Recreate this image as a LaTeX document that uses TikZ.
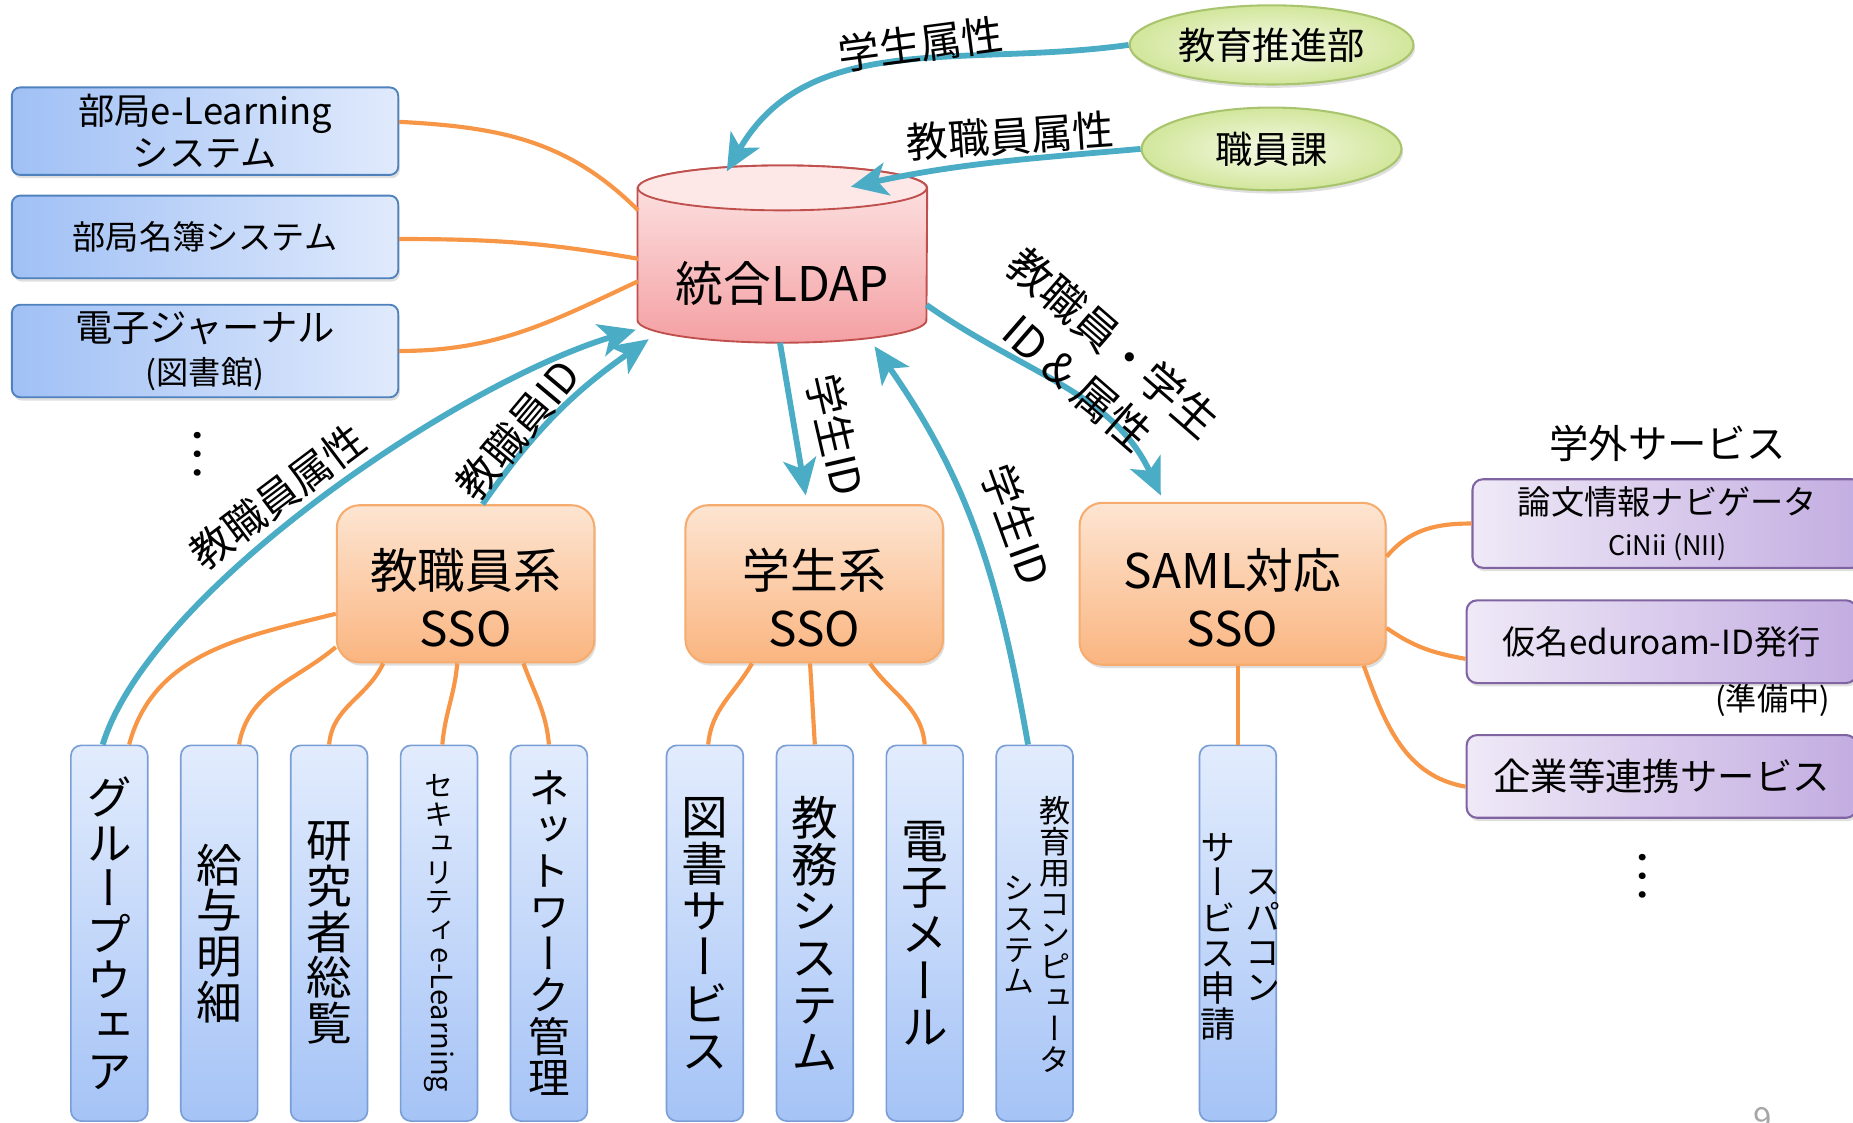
\documentclass[tikz,border=0pt]{standalone}
\usepackage{fontspec}
\setmainfont{Noto Sans CJK JP}
\newfontfamily\tatefont[RawFeature=+vert]{Noto Sans CJK JP}
\usepackage{graphicx}
\usepackage{tikz}
\usetikzlibrary{arrows.meta, shapes.geometric, shadows, calc}

\definecolor{flowblue}{HTML}{4BACC6}
\definecolor{linkorange}{HTML}{F79646}
\definecolor{sideline}{HTML}{4F81BD}
\definecolor{sideL}{HTML}{A0C0F5}
\definecolor{sideR}{HTML}{E0EAFC}
\definecolor{tateline}{HTML}{7A9ED6}
\definecolor{tateT}{HTML}{E2ECFD}
\definecolor{tateB}{HTML}{A5C3F6}
\definecolor{ssoline}{HTML}{F5AC6E}
\definecolor{ssoT}{HTML}{FDE5D2}
\definecolor{ssoB}{HTML}{FAB580}
\definecolor{extline}{HTML}{8064A2}
\definecolor{extL}{HTML}{EFE9F7}
\definecolor{extR}{HTML}{C3ADE1}
\definecolor{srcline}{HTML}{A9C46E}
\definecolor{srcin}{HTML}{F5FAE6}
\definecolor{srcout}{HTML}{D2E69B}
\definecolor{dbline}{HTML}{C0504D}
\definecolor{dbT}{HTML}{FDE7E7}
\definecolor{dbB}{HTML}{F4A0A3}

\tikzset{
    soft shadow/.style={drop shadow={opacity=0.25, shadow xshift=0.8pt, shadow yshift=-1.6pt}},
    side box/.style={draw=sideline, line width=0.9pt, rounded corners=4pt,
        left color=sideL, right color=sideR, soft shadow,
        minimum width=6.54cm, minimum height=1.4cm, align=center,
        font=\fontsize{16}{20}\selectfont},
    ext box/.style={draw=extline, line width=1pt, rounded corners=5pt,
        left color=extL, right color=extR, soft shadow,
        minimum width=6.6cm, minimum height=1.4cm, align=center,
        font=\fontsize{16}{20}\selectfont},
    sso box/.style={draw=ssoline, line width=1pt, rounded corners=11pt,
        top color=ssoT, bottom color=ssoB, soft shadow,
        minimum width=4.36cm, minimum height=2.66cm, align=center,
        text height=61pt, font=\fontsize{23}{28}\selectfont},
    tate box/.style={draw=tateline, line width=0.8pt, rounded corners=5pt,
        top color=tateT, bottom color=tateB,
        minimum width=1.3cm, minimum height=6.36cm, anchor=north, inner sep=0pt},
    tate text/.style={font=\tatefont\fontsize{#1}{#1}\selectfont, align=center, inner sep=0pt},
    src ellipse/.style={ellipse, draw=srcline, line width=1pt,
        inner color=srcin, outer color=srcout, soft shadow,
        minimum width=4.4cm, minimum height=1.34cm,
        font=\fontsize{18}{22}\selectfont},
    ldap db/.style={minimum width=4.89cm, minimum height=3cm, inner sep=0pt},
    db body/.style={draw=dbline, line width=0.9pt, top color=dbT, bottom color=dbB},
    flow/.style={draw=flowblue, line width=2.8pt,
        -{Stealth[length=0.62cm, width=0.56cm, inset=0.16cm]}},
    link line/.style={draw=linkorange, line width=2pt},
    flow label/.style={font=\fontsize{20}{24}\selectfont, inner sep=0pt},
    dots/.style={font=\fontsize{24}{24}\selectfont, inner sep=0pt},
}

\begin{document}
\begin{tikzpicture}[x=0.02cm, y=-0.02cm]
\useasboundingbox (0,0) rectangle (1568,950);
\clip (0,0) rectangle (1568,950);

% left side systems
\node[side box, font=\fontsize{17.5}{20}\selectfont] (lb1) at (173.5,111) {部局e-Learning\\システム};
\node[side box] (lb2) at (173.5,200.5) {部局名簿システム};
\node[side box, font=\fontsize{18}{20.5}\selectfont] (lb3) at (173.5,297) {電子ジャーナル\\{\fontsize{15.5}{16}\selectfont (図書館)}};
\node[dots] (ldots) at (167,385) {\rotatebox[origin=c]{90}{…}};

% LDAP cylinder and its sources
\node[ldap db] (ldap) at (662,215) {};
\shade[db body] ($(ldap.west)+(0,-56)$) -- ($(ldap.west)+(0,56)$)
    arc[start angle=180, end angle=0, x radius=122.25, y radius=19]
    -- ($(ldap.east)+(0,-56)$)
    arc[start angle=0, end angle=-180, x radius=122.25, y radius=19] -- cycle;
\filldraw[fill=dbT, draw=dbline, line width=0.9pt] ($(ldap.center)+(0,-56)$) ellipse [x radius=122.25, y radius=19];
\node[font=\fontsize{23}{28}\selectfont] (ldapname) at ($(ldap.center)+(0,25)$) {統合LDAP};
\node[src ellipse] (suishin) at (1076,38) {教育推進部};
\node[src ellipse, minimum height=1.4cm] (shokuin) at (1076,126) {職員課};

% SSO
\node[sso box] (ssoS) at (394,494) {教職員系\\SSO};
\node[sso box] (ssoG) at (689,494) {学生系\\SSO};
\node[sso box, minimum width=5.18cm, minimum height=2.74cm] (ssoM) at (1043,494) {SAML対応\\SSO};

% services under the SSOs
\node[tate box, tate text=22] (gw) at (92.5,630) {グ\\ル\\ー\\プ\\ウ\\ェ\\ア};
\node[tate box, tate text=22] (kyu) at (185.5,630) {給\\与\\明\\細};
\node[tate box, tate text=22] (ken) at (278.5,630) {研\\究\\者\\総\\覧};
\node[tate box, tate text=14] (sec) at (371.5,630) {セ\\キ\\ュ\\リ\\テ\\ィ\\\raisebox{0.8em}{\rotatebox{-90}{e-Learning}}};
\node[tate box, tate text=20] (net) at (464.5,630) {ネ\\ッ\\ト\\ワ\\ー\\ク\\管\\理};
\node[tate box, tate text=22.5] (tosho) at (596.5,630) {図\\書\\サ\\ー\\ビ\\ス};
\node[tate box, tate text=22.5] (kyomu) at (689.5,630) {教\\務\\シ\\ス\\テ\\ム};
\node[tate box, tate text=22.5] (mail) at (782.5,630) {電\\子\\メ\\ー\\ル};
\node[tate box] (kcomp) at (875.5,630) {};
\node[tate text=15] (kcompR) at ($(kcomp.center)+(17.5,1)$) {教\\育\\用\\コ\\ン\\ピ\\ュ\\ー\\タ};
\node[tate text=15] (kcompL) at ($(kcomp.center)+(-13.5,1)$) {シ\\ス\\テ\\ム};
\node[tate box] (supa) at (1047.5,630) {};
\node[tate text=17] (supaR) at ($(supa.center)+(21.5,2)$) {ス\\パ\\コ\\ン};
\node[tate text=17] (supaL) at ($(supa.center)+(-16.5,3)$) {サ\\ー\\ビ\\ス\\申\\請};

% outside services
\node[font=\fontsize{19}{22}\selectfont] (gakugai) at (1411,375) {学外サービス};
\node[ext box] (cinii) at (1411,443) {論文情報ナビゲータ\\{\fontsize{13}{14}\selectfont CiNii (NII)}};
\node[ext box] (edu) at (1406,543) {仮名eduroam-ID発行};
\node[font=\fontsize{15}{18}\selectfont] (junbi) at (1500,593) {(準備中)};
\node[ext box, font=\fontsize{18}{20}\selectfont] (kigyo) at (1406,657) {企業等連携サービス};
\node[dots] (rdots) at (1390,742) {\rotatebox[origin=c]{90}{…}};
\node[font=\fontsize{16}{18}\selectfont, text=gray!70, anchor=north, inner sep=0pt] (pno) at (1492,937) {9};

% orange links
\draw[link line] ([yshift=4.5pt]lb1.east) to[out=-3, in=135] ($(ldap.center)+(-122,-37)$);
\draw[link line] ([yshift=-1pt]lb2.east) to[out=0, in=170] ($(ldap.center)+(-122,4)$);
\draw[link line] (lb3.east) to[out=0, in=205] ($(ldap.center)+(-122,23)$);
\draw[link line] (ssoS.193) to[out=194, in=75] (gw.84);
\draw[link line] (ssoS.206) to[out=220, in=80] (kyu.84);
\draw[link line] (ssoS.224) to[out=245, in=85] (ken.north);
\draw[link line] (ssoS.264) to[out=-95, in=85] (sec.89);
\draw[link line] (ssoS.306) to[out=-70, in=95] (net.north);
\draw[link line] (ssoG.232) to[out=-120, in=85] (tosho.89);
\draw[link line] (ssoG.267) -- (kyomu.north);
\draw[link line] (ssoG.305) to[out=-55, in=95] (mail.north);
\draw[link line] (ssoM.south -| supa.north) -- (supa.north);
\draw[link line] (ssoM.10) to[out=50, in=180] (cinii.west);
\draw[link line] (ssoM.344) to[out=-35, in=170] (edu.185);
\draw[link line] (ssoM.328) to[out=-70, in=170] (kigyo.183);

% blue flows
\draw[flow] (suishin.west) to[out=188, in=60] ($(ldap.center)+(-47,-70)$);
\draw[flow] (shokuin.west) to[out=185, in=12] ($(ldap.center)+(58,-57)$);
\draw[flow] (gw.92) .. controls +(40,-130) and +(-150,45) .. ($(ldap.center)+(-124,64)$);
\draw[flow] (ssoS.78) to[out=55, in=215] ($(ldap.center)+(-113,72)$);
\draw[flow, shorten >=0.15cm] ($(ldap.center)+(-2,75)$) -- (ssoG.95);
\draw[flow] (kcomp.92) to[out=100, in=-55] ($(ldap.center)+(78,78)$);
\draw[flow, shorten >=0.12cm] ($(ldap.center)+(122,43)$) to[out=-35, in=115] (ssoM.130);

% flow labels
\node[flow label, rotate=7.5] (lblA) at (779,37) {学生属性};
\node[flow label, rotate=4] (lblB) at (855,115) {教職員属性};
\node[flow label, rotate=37] (lblC) at (235,420) {教職員属性};
\node[flow label, rotate=50] (lblD) at (438,364) {教職員ID};
\node[flow label, rotate=-77] (lblE) at (707,368) {学生ID};
\node[flow label, rotate=-70] (lblF) at (860,444) {学生ID};
\node[flow label, rotate=-41, align=center, font=\fontsize{21}{26}\selectfont] (lblG) at (927,307) {教職員・学生\\ID \& 属性};
\end{tikzpicture}
\end{document}
